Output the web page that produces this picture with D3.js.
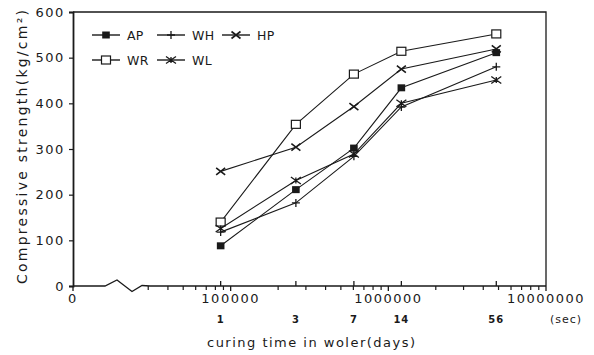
<!DOCTYPE html>
<html>
<head>
<meta charset="utf-8">
<script src="https://cdn.jsdelivr.net/npm/d3@7"></script>
<style>
  html, body { margin: 0; padding: 0; background: #fff; }
  svg { display: block; }
  text { font-family: "DejaVu Sans", "Liberation Sans", sans-serif; fill: #1a1a1a; }
</style>
</head>
<body>
<svg id="chart" width="594" height="355"></svg>
<script>
// ---- data ----
const dayLabels = ["1", "3", "7", "14", "56"];
const curingSeconds = [86400, 259200, 604800, 1209600, 4838400];
const seriesNames = ["AP", "WH", "HP", "WR", "WL"];
const AP = [88, 211, 302, 434, 511];
const WH = [118, 182, 284, 392, 480];
const HP = [251, 304, 393, 475, 519];
const WR = [140, 354, 464, 514, 552];
const WL = [126, 231, 289, 400, 451];
const yTickValues = [0, 100, 200, 300, 400, 500, 600];
const xMajorValues = [1e4, 1e5, 1e6, 1e7];
const xMajorLabels = ["0", "100000", "1000000", "10000000"];
const yTitle = "Compressive strength(kg/cm\u00B2)";
const xTitle = "curing time in woler(days)";
const unitLabel = "(sec)";

// ---- layout ----
const svg = d3.select("#chart");
const L = 73, R = 546, T = 12, B = 286;
const x = d3.scaleLog().domain([1e4, 1e7]).range([L, R]);
const y = d3.scaleLinear().domain([0, 600]).range([B, T]);
const ink = "#1a1a1a";

// frame (top/right)
svg.append("path")
  .attr("d", `M${L},${T} H${R} V${B}`)
  .attr("fill", "none").attr("stroke", ink).attr("stroke-width", 1.3);

// y axis
const yAxis = d3.axisLeft(y).tickValues(yTickValues).tickSize(4).tickPadding(4);
const gy = svg.append("g").attr("transform", `translate(${L},0)`).call(yAxis);
gy.select(".domain").attr("stroke", ink).attr("stroke-width", 1.8);
gy.selectAll(".tick line").attr("stroke", ink).attr("stroke-width", 1.2);
gy.selectAll(".tick text").attr("font-size", 13).attr("letter-spacing", 1.6)
  .attr("fill", ink).style("font-family", "DejaVu Sans");

// x axis baseline with break
const brk = [[L, B], [105, B], [117, B - 6], [132, B + 5.5], [142, B - 0.5], [150, B]];
svg.append("path")
  .attr("d", d3.line()(brk) + `H${R}`)
  .attr("fill", "none").attr("stroke", ink).attr("stroke-width", 1.3);

// minor log ticks (down)
const minorVals = [];
[1e4, 1e5, 1e6].forEach(dec => { for (let k = 2; k <= 9; k++) minorVals.push(dec * k); });
const minorShown = minorVals.filter(v => x(v) > 145);
svg.append("g").attr("class", "minor").selectAll("line").data(minorShown).join("line")
  .attr("x1", d => x(d)).attr("x2", d => x(d))
  .attr("y1", B).attr("y2", B + 4)
  .style("stroke", ink).style("stroke-width", "1.2px");

// major decade ticks + labels
const gx = svg.append("g");
gx.selectAll("line").data(xMajorValues).join("line")
  .attr("x1", d => x(d)).attr("x2", d => x(d))
  .attr("y1", B).attr("y2", B + 5)
  .style("stroke", ink).style("stroke-width", "1.3px");
gx.selectAll("text").data(xMajorValues).join("text")
  .attr("x", d => x(d)).attr("y", B + 17)
  .attr("text-anchor", "middle").attr("font-size", 13).attr("letter-spacing", 1.5)
  .text((d, i) => xMajorLabels[i]);

// day ticks (up) + day labels
const gd = svg.append("g");
gd.selectAll("line").data(curingSeconds).join("line")
  .attr("x1", d => x(d)).attr("x2", d => x(d))
  .attr("y1", B).attr("y2", B - 5)
  .style("stroke", ink).style("stroke-width", "1.3px");
gd.selectAll("text").data(curingSeconds).join("text")
  .attr("x", d => x(d)).attr("y", B + 37)
  .attr("text-anchor", "middle").attr("font-size", 10).attr("font-weight", "bold")
  .attr("letter-spacing", 1)
  .text((d, i) => dayLabels[i]);
svg.append("text").attr("x", 566).attr("y", B + 37).attr("text-anchor", "middle")
  .attr("font-size", 11).attr("letter-spacing", 1).text(unitLabel);

// titles
svg.append("text").attr("x", 311).attr("y", 347).attr("text-anchor", "middle")
  .attr("font-size", 13).attr("textLength", 208).attr("lengthAdjust", "spacing")
  .text(xTitle);
svg.append("text").attr("transform", "translate(27,147) rotate(-90)")
  .attr("text-anchor", "middle").attr("font-size", 14)
  .attr("textLength", 274).attr("lengthAdjust", "spacing")
  .text(yTitle);

// markers
function marker(sel, type) {
  sel.each(function() {
    const g = d3.select(this);
    if (type === "AP") {
      g.append("rect").attr("x", -3.8).attr("y", -3.5).attr("width", 7.6).attr("height", 7)
        .attr("fill", ink);
    } else if (type === "WR") {
      g.append("rect").attr("x", -4.5).attr("y", -4).attr("width", 9).attr("height", 8)
        .attr("fill", "#fff").attr("stroke", ink).attr("stroke-width", 1.2);
    } else if (type === "WH") {
      g.append("path").attr("d", "M-4,0H4M0,-4V4")
        .attr("stroke", ink).attr("stroke-width", 1.3).attr("fill", "none");
    } else if (type === "HP") {
      g.append("path").attr("d", "M-4.5,-3.5L4.5,3.5M-4.5,3.5L4.5,-3.5")
        .attr("stroke", ink).attr("stroke-width", 1.6).attr("fill", "none");
    } else if (type === "WL") {
      g.append("path").attr("d", "M-5,-3.5L0,0L-5,3.5M5,-3.5L0,0L5,3.5M0,-3V3")
        .attr("stroke", ink).attr("stroke-width", 1.3).attr("fill", "none");
    }
  });
}

const seriesData = { AP, WH, HP, WR, WL };
const line = d3.line().x(d => x(d[0])).y(d => y(d[1]));
seriesNames.forEach(name => {
  const pts = curingSeconds.map((s, i) => [s, seriesData[name][i]]);
  svg.append("path").attr("d", line(pts))
    .attr("fill", "none").attr("stroke", ink).attr("stroke-width", 1.1);
});
seriesNames.forEach(name => {
  const pts = curingSeconds.map((s, i) => [s, seriesData[name][i]]);
  svg.append("g").selectAll("g").data(pts).join("g")
    .attr("transform", d => `translate(${x(d[0])},${y(d[1])})`)
    .call(sel => marker(sel, name));
});

// legend
const legendPos = { AP: [92, 35], WH: [157, 35], HP: [222, 35], WR: [92, 60], WL: [157, 60] };
seriesNames.forEach(name => {
  const [lx, ly] = legendPos[name];
  const g = svg.append("g").attr("transform", `translate(${lx},${ly})`);
  g.append("line").attr("x1", 0).attr("x2", 28).attr("y1", 0).attr("y2", 0)
    .attr("stroke", ink).attr("stroke-width", 1.4);
  g.append("g").attr("transform", "translate(14,0)").call(sel => marker(sel, name));
  g.append("text").attr("x", 35).attr("y", 4.5).attr("font-size", 12.5)
    .attr("letter-spacing", 0.3).text(name);
});
</script>
</body>
</html>
